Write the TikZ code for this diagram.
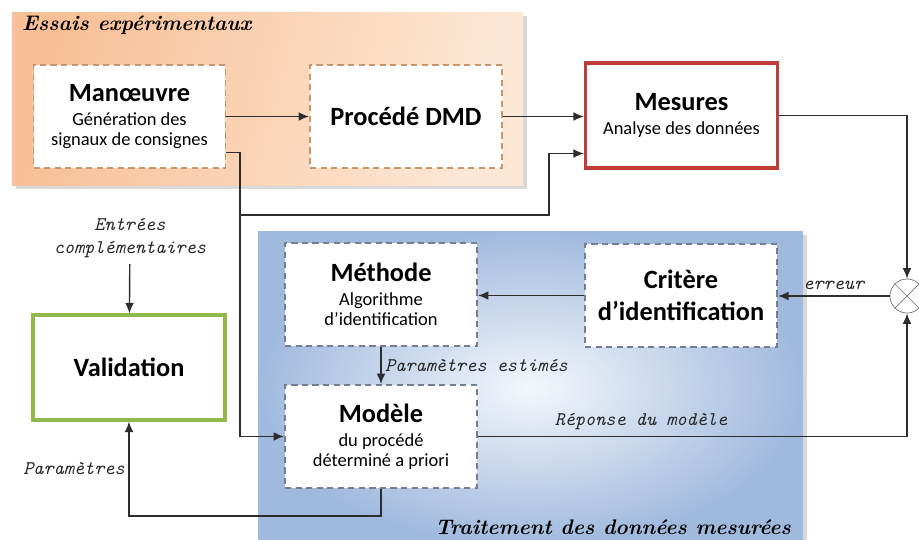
\documentclass[tikz,border=0pt]{standalone}
\usepackage{fontspec}
\setsansfont{Carlito}
\usetikzlibrary{arrows.meta,calc,shadows}
\definecolor{orangedeep}{RGB}{248,192,150}
\definecolor{orangepale}{RGB}{253,232,214}
\definecolor{bluedeep}{RGB}{160,186,222}
\definecolor{bluepale}{RGB}{244,247,252}
\definecolor{dashbrown}{RGB}{198,150,110}
\definecolor{dashgrey}{RGB}{116,126,144}
\definecolor{mesred}{RGB}{192,62,56}
\definecolor{valgreen}{RGB}{146,184,74}
\definecolor{wire}{RGB}{45,45,45}
\tikzset{
  box/.style={draw,fill=white,line width=1.1pt,dash pattern=on 3.5pt off 2.5pt,
    minimum width=3.84cm,minimum height=2.06cm,align=center,
    font=\sffamily\fontsize{10.5}{11.6}\selectfont},
  trialbox/.style={box,draw=dashbrown},
  procbox/.style={box,draw=dashgrey},
  solidbox/.style={box,solid,line width=1.8pt},
  lab/.style={font=\ttfamily\itshape\fontsize{11}{13.5}\selectfont,text=black!85},
  paneltitle/.style={font=\rmfamily\bfseries\itshape\large},
  panelshadow/.style={drop shadow={shadow xshift=2pt,shadow yshift=-2pt,opacity=0.3}},
}
\newcommand{\boxtitle}[1]{{\fontsize{15}{18}\selectfont\bfseries #1}}
\begin{document}
\begin{tikzpicture}[x=0.02cm,y=-0.02cm,>={Latex[length=6pt,width=5pt]}]
  \useasboundingbox (0,0) rectangle (919,539);
  % panneaux
  \path[panelshadow,left color=orangedeep,right color=orangepale,shading angle=75]
    (12,12) rectangle (523,185);
  \node[paneltitle,anchor=west] (essais) at (16,25) {Essais exp\'erimentaux};
  \path[panelshadow,inner color=bluepale,outer color=bluedeep]
    (258,231) rectangle (803,545);
  \node[paneltitle,anchor=east] (traitement) at (797,527) {Traitement des donn\'ees mesur\'ees};
  % blocs
  \node[trialbox] (man) at (129.5,116.5) {\boxtitle{Man\oe uvre}\\[2pt]G\'en\'eration des\\signaux de consignes};
  \node[trialbox] (dmd) at (406,116.5) {\boxtitle{Proc\'ed\'e DMD}};
  \node[solidbox,draw=mesred,minimum height=2.1cm] (mes) at (681.5,115.5) {\boxtitle{Mesures}\\[2pt]Analyse des donn\'ees};
  \node[procbox] (meth) at (381,294.5) {\boxtitle{M\'ethode}\\[2pt]Algorithme\\d'identification};
  \node[procbox] (mod) at (381,436.5) {\boxtitle{Mod\`ele}\\[2pt]du proc\'ed\'e\\d\'etermin\'e a priori};
  \node[procbox,font=\sffamily\bfseries\fontsize{15}{18}\selectfont] (crit) at (681,295.5) {Crit\`ere\\d'identification};
  \node[solidbox,draw=valgreen,minimum height=2.1cm] (val) at (129,367.5) {\boxtitle{Validation}};
  \node[circle,draw=black!55,thin,minimum size=0.68cm,inner sep=0pt] (sum) at (907,296) {};
  \draw[black!55,thin] (sum.north west) -- (sum.south east) (sum.north east) -- (sum.south west);
  \node[lab,align=center] (ent) at (130,238) {Entr\'ees\\compl\'ementaires};
  % liaisons
  \coordinate (split) at (240,215);
  \draw[wire,thick,->] (man) -- (dmd);
  \draw[wire,thick,->] (dmd.east) -- (dmd.east -| mes.west);
  \draw[wire,thick,->] ($(man.east)+(0,36)$) -| (split) |- (mod.west);
  \draw[wire,thick,->] (split) -| ($(mes.west)+(-35,38)$) -- ($(mes.west)+(0,38)$);
  \draw[wire,thick,->] (mes.east) -| (sum.north);
  \draw[wire,thick,->] (mod.east) -| node[lab,pos=0.19,above]{R\'eponse du mod\`ele} (sum.south);
  \draw[wire,thick,->] (sum.west) -- node[lab,above]{erreur} (sum.west -| crit.east);
  \draw[wire,thick,->] (crit.west) -- (crit.west -| meth.east);
  \draw[wire,thick,->] (meth.south) -- node[lab,right,inner sep=2pt]{Param\`etres estim\'es} (mod.north);
  \draw[wire,thick,->] (ent) -- (val);
  \draw[wire,thick,->] (mod.south) -- ++(0,27) -| node[lab,pos=0.75,left,inner sep=2pt]{Param\`etres} (val.south);
\end{tikzpicture}
\end{document}
